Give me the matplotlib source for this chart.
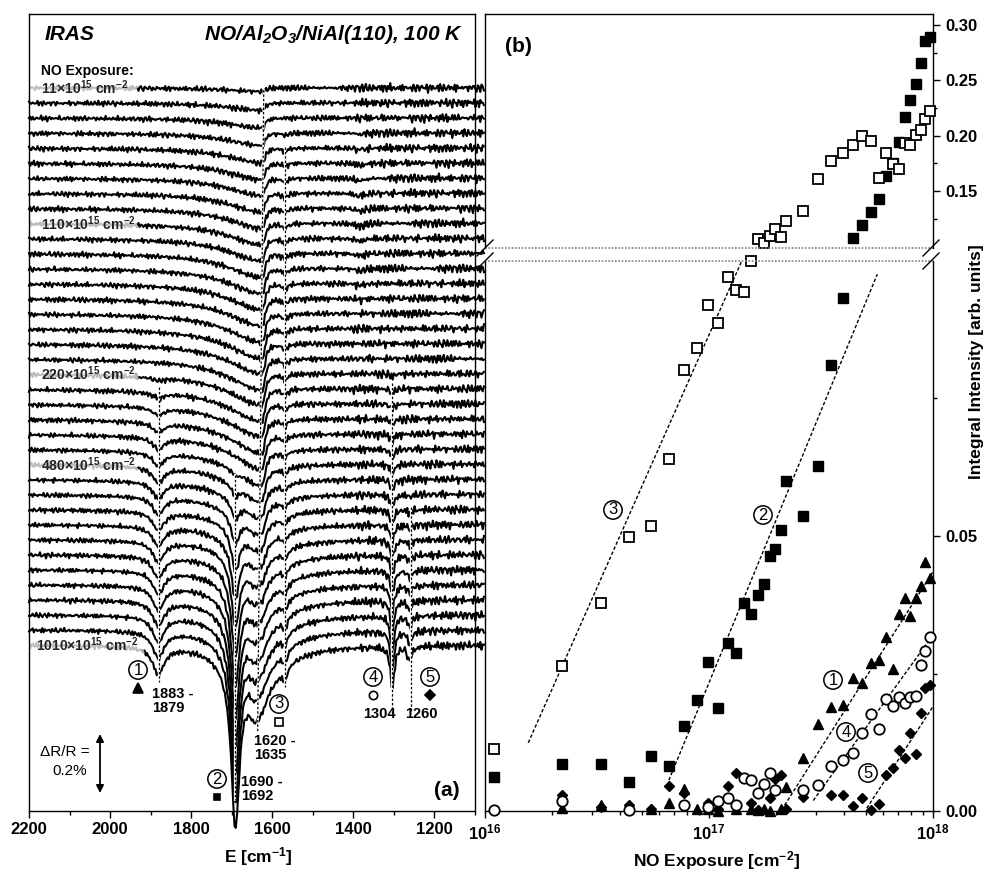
import numpy as np
import matplotlib
matplotlib.use("Agg")
import matplotlib.pyplot as plt
from matplotlib.lines import Line2D
from matplotlib.ticker import MultipleLocator, LogLocator, NullFormatter

plt.rcParams['font.family'] = ['Liberation Sans', 'DejaVu Sans']
plt.rcParams['mathtext.default'] = 'regular'
plt.rcParams['axes.linewidth'] = 1.0

W, H = 986, 871

# NO exposure of every spectrum / data point (1e15 cm^-2)
exposure = [11, 22, 33, 44, 55, 66, 77, 88, 99, 110,
            121, 132, 143, 154, 165, 176, 187, 198, 209, 220,
            264, 308, 352, 396, 440, 484, 528, 572, 616, 660,
            704, 748, 792, 836, 880, 924, 968, 1012]
nan = np.nan

# (b) integral intensities [arb. units], NaN = hidden under other symbols
int_1 = [nan, 0.0005, 0.0011, nan, 0.0004, 0.0015, 0.0040, 0.0003, 0.0003, 0.0,
         nan, 0.0003, nan, 0.0003, 0.0002, 0.0003, 0.0, nan, 0.0003, 0.0044,
         0.0096, 0.0159, 0.0190, 0.0193, 0.0242, 0.0232, 0.0270, 0.0275, 0.0317, 0.0258,
         0.0359, 0.0387, 0.0355, 0.0387, 0.0409, 0.0453, 0.0423, nan]
int_2 = [0.0061, 0.0085, 0.0085, 0.0052, 0.0100, 0.0082, 0.0155, 0.0201, 0.0271, 0.0187,
         0.0306, 0.0287, 0.0379, 0.0358, 0.0393, 0.0413, 0.0464, 0.0476, 0.0511, 0.0600,
         0.0537, 0.0628, 0.0810, 0.0932, 0.1074, 0.1194, 0.1314, 0.1428, 0.1635, 0.1750,
         0.1944, 0.2169, 0.2319, 0.2469, 0.2655, 0.2859, 0.2895, nan]
int_3 = [0.0113, 0.0264, 0.0379, 0.0499, 0.0518, 0.0640, 0.0802, 0.0842, 0.0920, 0.0887,
         0.0971, 0.0948, 0.0944, 0.1000, 0.1068, 0.1029, 0.1095, 0.1160, 0.1083, 0.1233,
         0.1323, 0.1608, 0.1773, 0.1845, 0.1914, 0.1995, 0.1950, 0.1614, 0.1845, 0.1740,
         0.1695, 0.1935, 0.1914, 0.2004, 0.2055, 0.2154, 0.2223, nan]
int_4 = [0.0002, 0.0019, nan, 0.0002, nan, nan, 0.0011, nan, 0.0007, 0.0019,
         0.0023, 0.0011, 0.0060, 0.0056, 0.0032, 0.0050, 0.0069, 0.0038, nan, nan,
         0.0039, 0.0047, 0.0082, 0.0093, 0.0106, 0.0142, 0.0176, 0.0150, 0.0203, 0.0191,
         0.0207, 0.0196, 0.0207, 0.0209, 0.0265, 0.0291, 0.0316, nan]
int_5 = [nan, 0.0029, 0.0008, 0.0011, 0.0003, 0.0046, 0.0033, nan, 0.0014, 0.0003,
         0.0045, 0.0070, 0.0060, 0.0015, 0.0002, nan, 0.0023, 0.0058, 0.0065, 0.0003,
         0.0026, nan, 0.0029, 0.0029, 0.0009, 0.0023, 0.0002, 0.0012, 0.0065, 0.0079,
         0.0111, 0.0096, 0.0141, 0.0103, 0.0178, 0.0223, 0.0229, nan]

# dotted guide lines in (b): end points (exposure cm^-2, intensity)
fit_1 = ([2.11e17, 1.0e18], [0.0002, 0.0435])
fit_2 = ([6.62e16, 5.64e17], [0.0056, 0.0976])
fit_3 = ([1.56e16, 1.40e17], [0.0124, 0.1000])
fit_4 = ([2.92e17, 1.0e18], [0.0019, 0.0320])
fit_5 = ([5.06e17, 1.0e18], [0.0005, 0.0190])

# (a) band depths per spectrum, in 1e-4 dR/R
z = [0.0] * 38
d_1881 = z[:19] + [1.0, 1.8, 2.5, 3.2, 3.9, 4.6, 5.3, 5.6, 6.0, 6.3,
                   6.7, 7.0, 7.4, 7.7, 8.1, 8.4, 8.8, 9.1, 9.5]
d_1691 = z[:24] + [1.4, 3.5, 6.3, 9.8, 14.0, 18.2, 22.8, 27.3, 32.2, 37.1,
                   41.7, 45.9, 49.7, 53.2]
d_1691w = z[:24] + [0.2, 0.4, 0.8, 1.2, 1.7, 2.2, 2.7, 3.3, 3.9, 4.5,
                    5.0, 5.5, 6.0, 6.4]
d_1624 = [1.3, 2.6, 3.5, 4.4, 5.2, 5.8, 6.1, 6.6, 7.0, 7.5,
          7.9, 8.4, 8.8, 9.2, 9.6, 10.1, 10.5, 10.5, 11.0, 11.0,
          11.4, 11.4, 11.4, 11.0, 10.5, 9.6, 8.8, 7.9, 7.0, 6.1,
          5.2, 4.4, 4.0, 3.5, 3.1, 2.6, 2.2, 2.2]
d_1640 = z[:22] + [0.7, 1.4, 2.1, 3.2, 4.2, 5.3, 6.3, 7.7, 9.1, 10.5,
                   11.9, 13.3, 14.7, 16.1, 17.5, 19.3]
d_1569 = [0, 0, 0, 0.7, 1.0, 1.0, 1.4, 1.4, 1.4, 1.8,
          1.8, 1.8, 1.8, 1.8, 1.8, 2.1, 2.1, 2.1, 2.1, 2.1,
          2.1, 2.1, 2.1, 2.1, 2.1, 2.1, 2.5, 2.5, 2.8, 2.8,
          3.2, 3.2, 3.5, 3.5, 3.9, 3.9, 4.2, 4.2]
d_1384 = z[:3] + [0.4, 0.6, 0.8, 1.0, 1.0, 1.0, 1.0, 1.0, 0.8, 0.8, 0.6, 0.4] + z[:23]
d_1304 = z[:19] + [1.0, 1.4, 1.8, 2.1, 2.5, 2.8, 3.2, 3.5, 4.2, 4.9,
                   5.6, 6.3, 7.0, 8.1, 9.1, 10.5, 11.9, 13.3, 14.7]
d_1261 = z[:27] + [0.7, 1.0, 1.4, 1.8, 2.1, 2.5, 2.8, 3.2, 3.9, 4.6, 5.3]

noise_a = [0.3, -0.8, 0.5, 1.0, -0.2, -1.1, 0.4, 0.9, -0.6, 0.1,
           1.2, -0.4, -0.9, 0.6, 0.2, -1.3, 0.8, 0.5, -0.3, -0.7,
           1.1, 0.0, -0.5, 0.9, -1.0, 0.3, 0.7, -0.8, 0.4, -0.2,
           1.3, -0.6, -0.1, 0.8, -1.2, 0.5, 0.2, -0.9, 1.0, -0.4,
           0.6, -0.7, 0.1, 1.1, -0.3, -1.0, 0.7, 0.3, -0.6, 0.9,
           -0.2, -1.1, 0.5, 0.8, -0.5, 0.0, 1.2, -0.8, 0.4, -0.3,
           0.9, -1.2, 0.2, 0.6, -0.4, 1.0, -0.9, 0.3, -0.1, 0.7,
           -0.6, 1.1, -0.2, -0.8, 0.5, 0.1, -1.0, 0.8, 0.4, -0.7,
           1.2, -0.3, -0.5, 0.6, -1.1, 0.9, 0.2, -0.4, 0.7]
noise_b = [-0.5, 0.9, 0.2, -1.0, 0.6, -0.3, 1.1, -0.7, 0.0, 0.8,
           -1.2, 0.4, 0.7, -0.6, -0.2, 1.0, -0.9, 0.3, 0.5, -1.1,
           0.8, -0.1, -0.6, 1.2, -0.4, 0.2, -0.8, 0.9, 0.1, -1.0,
           0.6, -0.3, 1.1, -0.7, 0.4, -0.5, 0.8, -1.2, 0.3, 0.7,
           -0.2, -0.9, 1.0, -0.4, 0.5, -0.8, 0.2, 1.1, -0.6, 0.0,
           -1.0, 0.7, 0.4]

labelled = {0: '11', 9: '110', 19: '220', 25: '480', 37: '1010'}


def fx(px):
    return px / W


def fy(py):
    return 1 - py / H


fig = plt.figure(figsize=(W / 100, H / 100), dpi=100)

# ---------------- (a) spectra ----------------
ax_a = fig.add_axes([fx(29), fy(811), (475 - 29) / W, (811 - 14) / H])
ax_a.set_xlim(2200, 1100)
ax_a.set_ylim(0, 797 / 285)

def yp(py):
    return (811 - py) / 285

wn = np.arange(2200.0, 1075.0, -3.0)
k = np.arange(wn.size)
amp = np.where(wn > 1800, 0.75, np.where(wn > 1400, 0.85, 1.2))


def lor(c, gl, gr=None):
    gr = gl if gr is None else gr
    g = np.where(wn > c, gl, gr)
    return g ** 2 / ((wn - c) ** 2 + g ** 2)

bands = [(d_1881, lor(1881, 17)), (d_1691, lor(1691, 12)), (d_1691w, lor(1691, 45)),
         (d_1624, lor(1624, 100, 8)), (d_1640, lor(1640, 25, 55)),
         (d_1569, lor(1569, 8)), (d_1384, lor(1384, 14)),
         (d_1304, lor(1304, 6)), (d_1261, lor(1261, 6))]
na_arr = np.array(noise_a)
nb_arr = np.array(noise_b)
for i in range(len(exposure)):
    sig = np.zeros_like(wn)
    for depth, shape in bands:
        sig -= depth[i] * shape
    sig += amp * (0.7 * na_arr[(k + 23 * i) % len(na_arr)] +
                  0.5 * nb_arr[(k + 11 * i) % len(nb_arr)])
    y = yp(88 + 15.05 * i) + sig * 0.01
    if i in labelled:
        cut = 1935 if i != 37 else 1920
        m = wn <= cut + 3
        ax_a.plot(wn[m], y[m], color='k', lw=1.5, clip_on=False, zorder=2)
        ax_a.plot(wn[~m | (wn > cut - 3)], y[~m | (wn > cut - 3)],
                  color='#bdbdbd', lw=1.5, zorder=2)
    else:
        ax_a.plot(wn, y, color='k', lw=1.5, clip_on=False, zorder=2)

# dotted position markers
for (w0, p0), (w1, p1) in [((1621, 90), (1636, 731)), ((1569, 147), (1569, 687)),
                           ((1880, 387), (1880, 682)), ((1691, 475), (1691, 800)),
                           ((1304, 383), (1304, 713)), ((1259, 507), (1259, 713))]:
    ax_a.plot([w0, w1], [yp(p0), yp(p1)], color='white', lw=1.6, zorder=3)
    ax_a.plot([w0, w1], [yp(p0), yp(p1)], color='k', lw=0.9,
              ls=(0, (2, 1.5)), zorder=4)

ax_a.set_xticks([2200, 2000, 1800, 1600, 1400, 1200])
ax_a.set_xticklabels(['2200', '2000', '1800', '1600', '1400', '1200'],
                     fontsize=12, fontweight='bold')
ax_a.xaxis.set_minor_locator(MultipleLocator(100))
ax_a.set_yticks([])
ax_a.tick_params(axis='x', which='both', direction='out', top=False, width=1, pad=3)
ax_a.tick_params(axis='x', which='major', length=5)
ax_a.tick_params(axis='x', which='minor', length=3)

fig.text(fx(45), fy(35), 'IRAS', fontsize=15, fontweight='bold', style='italic',
         ha='left', va='center')
fig.text(fx(463), fy(35), r'NO/Al$_2$O$_3$/NiAl(110), 100 K', fontsize=15,
         fontweight='bold', style='italic', ha='right', va='center')
fig.text(fx(41), fy(71), 'NO Exposure:', fontsize=10, fontweight='bold',
         ha='left', va='center')
for i, lab in labelled.items():
    x0 = 36 if i == 37 else 41
    fig.text(fx(x0), fy(88 + 15.05 * i), lab + r'×10$^{15}$ cm$^{-2}$', fontsize=10,
             fontweight='bold', color='#222222', ha='left', va='center', zorder=6)

fig.text(fx(258), fy(857), r'E [cm$^{-1}$]', fontsize=12.5, fontweight='bold',
         ha='center', va='center')
fig.text(fx(460), fy(790), '(a)', fontsize=15, fontweight='bold', ha='right', va='center')


def circled(px, py, s):
    fig.text(fx(px), fy(py), s, ha='center', va='center', fontsize=12, zorder=8,
             bbox=dict(boxstyle='circle,pad=0.1', fc='white', ec='k', lw=1.1))


def symbol(px, py, marker, face, size):
    fig.add_artist(Line2D([fx(px)], [fy(py)], marker=marker, ms=size, mfc=face,
                          mec='k', mew=1.2, ls='none', transform=fig.transFigure))

peak_labels = [
    ('1', 138, 670, '^', 'k', 6.5, 152, 701, '1883 -\n1879', 'left'),
    ('2', 217, 779, 's', 'k', 5, 241, 789, '1690 -\n1692', 'left'),
    ('3', 279, 704, 's', 'white', 6, 254, 748, '1620 -\n1635', 'left'),
    ('4', 373, 677, 'o', 'white', 6, 379, 714, '1304', 'center'),
    ('5', 430, 677, 'D', 'k', 5, 421, 714, '1260', 'center'),
]
for num, cx, cy, mk, face, ms, tx, ty, txt, ha in peak_labels:
    circled(cx, cy, num)
    symbol(cx, cy + 18, mk, face, ms)
    fig.text(fx(tx), fy(ty), txt, fontsize=10.5, fontweight='bold', ha=ha,
             va='center', linespacing=1.05)

fig.text(fx(90), fy(752), 'ΔR/R =', fontsize=11, ha='right', va='center')
fig.text(fx(70), fy(771), '0.2%', fontsize=11, ha='center', va='center')
ax_a.annotate('', xy=(fx(100), fy(734)), xytext=(fx(100), fy(793)),
              xycoords='figure fraction', textcoords='figure fraction',
              arrowprops=dict(arrowstyle='<|-|>', color='k', lw=1.3,
                              mutation_scale=11, shrinkA=0, shrinkB=0))

# ---------------- (b) integral intensities ----------------
ax_top = fig.add_axes([fx(485), fy(248), (933 - 485) / W, (248 - 14) / H], zorder=3)
ax_bot = fig.add_axes([fx(485), fy(811), (933 - 485) / W, (811 - 261) / H], zorder=3)
for ax in (ax_top, ax_bot):
    ax.set_xscale('log')
    ax.set_xlim(1e16, 1e18)
    ax.set_facecolor('white')
    ax.yaxis.tick_right()
    ax.tick_params(axis='y', which='both', direction='out', left=False, right=True,
                   width=1, labelsize=12, pad=4)
    ax.tick_params(axis='y', which='major', length=5)
    ax.tick_params(axis='y', which='minor', length=3)
ax_top.set_ylim(0.0985, 0.31)
ax_bot.set_ylim(0, 0.10)
ax_top.spines['bottom'].set_visible(False)
ax_bot.spines['top'].set_visible(False)
ax_top.tick_params(axis='x', which='both', bottom=False, top=False, labelbottom=False)

ax_top.set_yticks([0.15, 0.20, 0.25, 0.30])
ax_top.set_yticklabels(['0.15', '0.20', '0.25', '0.30'], fontweight='bold')
ax_top.set_yticks([0.125, 0.175, 0.225, 0.275], minor=True)
ax_bot.set_yticks([0.0, 0.05])
ax_bot.set_yticklabels(['0.00', '0.05'], fontweight='bold')
ax_bot.set_yticks([0.025, 0.075], minor=True)

ax_bot.set_xticks([1e16, 1e17, 1e18])
ax_bot.set_xticklabels([r'10$^{16}$', r'10$^{17}$', r'10$^{18}$'], fontsize=12,
                       fontweight='bold')
ax_bot.xaxis.set_minor_locator(LogLocator(base=10, subs=np.arange(2, 10)))
ax_bot.xaxis.set_minor_formatter(NullFormatter())
ax_bot.tick_params(axis='x', which='both', direction='out', top=False, width=1, pad=3)
ax_bot.tick_params(axis='x', which='major', length=5)
ax_bot.tick_params(axis='x', which='minor', length=3)

xe = np.array(exposure) * 1e15
styles = [
    (int_2, dict(marker='s', mfc='k', mec='k', ms=6.5, mew=1.0)),
    (int_3, dict(marker='s', mfc='white', mec='k', ms=6.5, mew=1.3)),
    (int_1, dict(marker='^', mfc='k', mec='k', ms=7.5, mew=1.0)),
    (int_5, dict(marker='D', mfc='k', mec='k', ms=5.5, mew=1.0)),
    (int_4, dict(marker='o', mfc='white', mec='k', ms=7.5, mew=1.3)),
]
for vals, st in styles:
    v = np.array(vals, dtype=float)
    lo = np.where(v <= 0.1, v, nan)
    hi = np.where(v > 0.1, v, nan)
    ax_bot.plot(xe, lo, ls='none', clip_on=False, zorder=4, **st)
    ax_top.plot(xe, hi, ls='none', clip_on=False, zorder=4, **st)

for fx_, fy_ in (fit_1, fit_2, fit_3, fit_4, fit_5):
    ax_bot.plot(fx_, fy_, color='k', lw=1.0, ls=(0, (2.5, 1.5)), zorder=3)

# axis break
for py in (248, 261):
    fig.add_artist(Line2D([fx(485), fx(933)], [fy(py), fy(py)], color='#808080',
                          lw=1.2, ls=(0, (1, 1)), transform=fig.transFigure, zorder=5))
    for px in (485, 931):
        fig.add_artist(Line2D([fx(px - 8), fx(px + 8)], [fy(py + 8), fy(py - 8)],
                              color='k', lw=1.0, transform=fig.transFigure, zorder=5))

for num, px, py in [('3', 613, 510), ('2', 763, 515), ('1', 833, 680),
                    ('4', 846, 732), ('5', 868, 773)]:
    circled(px, py, num)

fig.text(fx(518), fy(46), '(b)', fontsize=15, fontweight='bold', ha='center', va='center')
fig.text(fx(717), fy(861), r'NO Exposure [cm$^{-2}$]', fontsize=12.5, fontweight='bold',
         ha='center', va='center')
fig.text(fx(977), fy(362), 'Integral Intensity [arb. units]', fontsize=12.5,
         fontweight='bold', rotation=90, ha='center', va='center')

fig.savefig('out.png', dpi=100)
